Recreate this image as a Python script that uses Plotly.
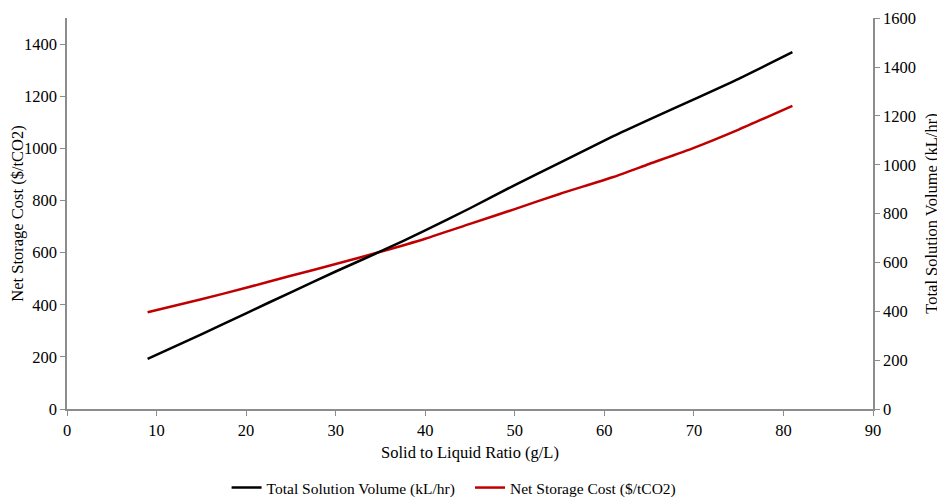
import plotly.graph_objects as go

# solid to liquid ratio (g/L)
ratio = [9, 15, 20, 25, 30, 35, 40, 45, 50, 55, 61, 65, 70, 75, 81]

# total solution volume (kL/hr) - right axis
volume = [205, 306, 392, 478, 563, 645, 731, 822, 917, 1008, 1117, 1185, 1268, 1352, 1461]

# net storage cost ($/tCO2) - left axis
cost = [371, 421, 465, 511, 556, 603, 653, 710, 767, 825, 890, 940, 1002, 1072, 1163]

fam = "Liberation Serif, Times New Roman, serif"
axcol = "#8c8c8c"

fig = go.Figure()

fig.add_trace(go.Scatter(x=ratio, y=volume, mode="lines", name="Total Solution Volume (kL/hr)",
                         line=dict(color="black", width=2.5, shape="spline", smoothing=0.6),
                         yaxis="y2", legend="legend"))
fig.add_trace(go.Scatter(x=ratio, y=cost, mode="lines", name="Net Storage Cost ($/tCO2)",
                         line=dict(color="#C00000", width=2.5, shape="spline", smoothing=0.6),
                         legend="legend2"))

leg = dict(orientation="h", xanchor="left", y=-0.202, yanchor="middle",
           font=dict(family=fam, size=15.5, color="black"), bgcolor="rgba(0,0,0,0)")

# page puts the figure 8px in from the top-left, margins account for that
fig.update_layout(
    width=945, height=497,
    margin=dict(l=59, r=80, t=10, b=96, autoexpand=False),
    plot_bgcolor="white", paper_bgcolor="white",
    font=dict(family=fam, size=16.5, color="black"),
    showlegend=True,
    legend=dict(leg, x=0.198),
    legend2=dict(leg, x=0.500),
    xaxis=dict(range=[0, 90], dtick=10, showgrid=False, zeroline=False, automargin=False,
               showline=True, linecolor=axcol, linewidth=1.5,
               ticks="outside", ticklen=5, tickcolor=axcol,
               title=dict(text="Solid to Liquid Ratio (g/L)", font=dict(size=16.5), standoff=8)),
    yaxis=dict(range=[0, 1500], tick0=0, dtick=200, showgrid=False, zeroline=False, automargin=False,
               showline=True, linecolor=axcol, linewidth=1.5,
               ticks="outside", ticklen=5, tickcolor=axcol,
               title=dict(text="Net Storage Cost ($/tCO2)", font=dict(size=16.5), standoff=14)),
    yaxis2=dict(range=[0, 1601], tick0=0, dtick=200, overlaying="y", side="right",
                showgrid=False, zeroline=False, automargin=False, ticklabeloverflow="allow",
                showline=True, linecolor=axcol, linewidth=1.5,
                ticks="outside", ticklen=5, tickcolor=axcol,
                title=dict(text="Total Solution Volume (kL/hr)", font=dict(size=16.5), standoff=10)),
)

fig.write_html("out.html")
